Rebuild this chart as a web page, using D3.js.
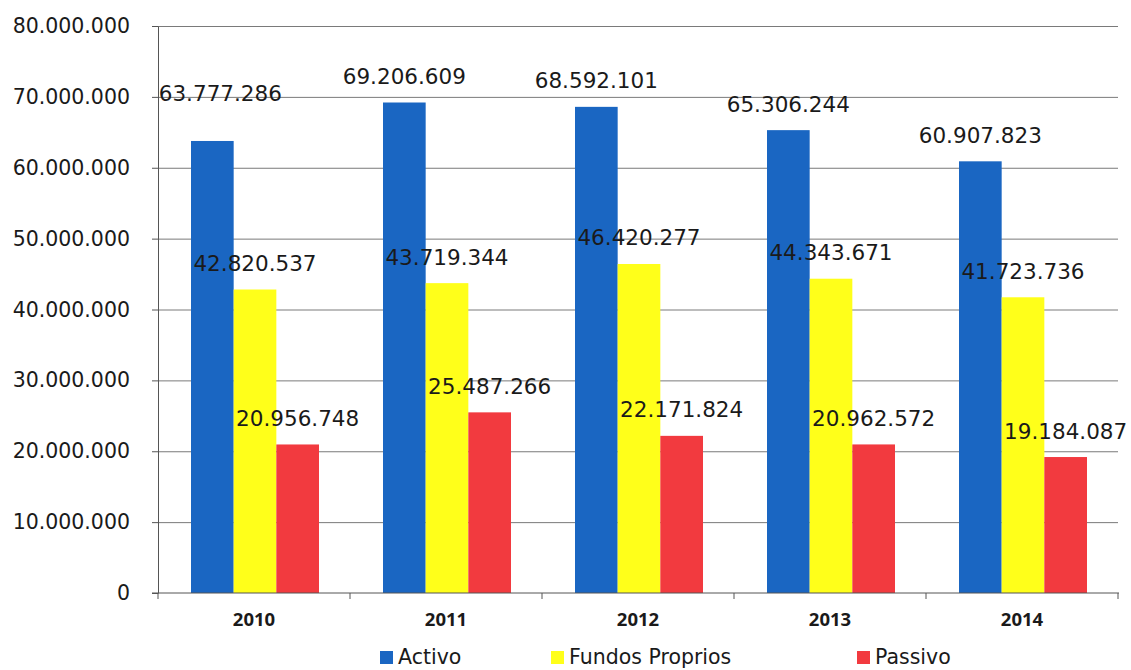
<!DOCTYPE html>
<html>
<head>
<meta charset="utf-8">
<script src="https://cdn.jsdelivr.net/npm/d3@7"></script>
<style>
    body { margin: 0; background: #fff; }
    .grid line { stroke: #7a7a7a; stroke-width: 1; }
    .grid .domain { display: none; }
    .y.axis text { font-family: "DejaVu Sans"; font-size: 20.5px; fill: #1a1a1a; }
    .x.axis text { font-family: "Open Sans"; font-weight: 700; font-size: 18.5px; fill: #1a1a1a; }
    .axis line, .axis path { stroke: #555; }
    .label { font-family: "DejaVu Sans"; font-size: 21.5px; fill: #1a1a1a; }
    .legend text { font-family: "DejaVu Sans"; font-size: 20.5px; fill: #1a1a1a; }
</style>
</head>
<body>
<svg id="chart" width="1131" height="670"></svg>
<script>
const years = ["2010", "2011", "2012", "2013", "2014"]
const seriesNames = ["Activo", "Fundos Proprios", "Passivo"]
const activo = [63777286, 69206609, 68592101, 65306244, 60907823]
const fundos = [42820537, 43719344, 46420277, 44343671, 41723736]
const passivo = [20956748, 25487266, 22171824, 20962572, 19184087]
const yTicks = [0, 10000000, 20000000, 30000000, 40000000, 50000000, 60000000, 70000000, 80000000]
const colors = ["#1a66c2", "#ffff1a", "#f23a3f"]

const values = [activo, fundos, passivo]
const data = []
years.forEach((year, i) => {
    values.forEach((vals, s) => {
        data.push({ year: year, series: seriesNames[s], s: s, value: vals[i] })
    })
})

const plotLeft = 158, plotRight = 1118, plotTop = 26, plotBottom = 593

const svg = d3.select("#chart")
const fmt = d => d3.format(",")(d).replace(/,/g, ".")

const x = d3.scaleBand().domain(years).range([plotLeft, plotRight]).paddingInner(0).paddingOuter(0)
const xs = d3.scaleBand().domain(d3.range(3)).range([33, 192 - 31]).padding(0)
const y = d3.scaleLinear().domain([0, 80000000]).range([plotBottom, plotTop])

// gridlines
svg.append("g").attr("class", "grid").attr("transform", `translate(${plotLeft},0)`)
    .call(d3.axisLeft(y).tickValues(yTicks.slice(1)).tickSize(-(plotRight - plotLeft)).tickFormat(""))

// y axis
svg.append("g").attr("class", "y axis").attr("transform", `translate(${plotLeft},0)`)
    .call(d3.axisLeft(y).tickValues(yTicks).tickSize(6).tickSizeOuter(0).tickPadding(22).tickFormat(fmt))

// bars
svg.selectAll(".bar").data(data).enter().append("rect").attr("class", "bar")
    .attr("x", d => x(d.year) + xs(d.s))
    .attr("y", d => y(d.value))
    .attr("width", xs.bandwidth())
    .attr("height", d => y(0) - y(d.value))
    .style("fill", d => colors[d.s])

// x axis with ticks at category boundaries
const xAxis = svg.append("g").attr("class", "x axis").attr("transform", `translate(0,${plotBottom})`)
xAxis.append("line").attr("x1", plotLeft - 6).attr("x2", plotRight + 1).attr("y1", 0).attr("y2", 0).attr("stroke", "#555")
xAxis.selectAll(".tick-b").data(d3.range(years.length + 1)).enter().append("line")
    .attr("x1", i => plotLeft + i * x.bandwidth()).attr("x2", i => plotLeft + i * x.bandwidth())
    .attr("y1", 0).attr("y2", 6).attr("stroke", "#555")
xAxis.selectAll("text").data(years).enter().append("text")
    .attr("x", d => x(d) + x.bandwidth() / 2).attr("y", 33)
    .attr("text-anchor", "middle").text(d => d)

// data labels; 2010 Activo label was dragged up-left in the original
svg.selectAll(".label").data(data).enter().append("text").attr("class", "label")
    .attr("text-anchor", "middle")
    .attr("x", d => x(d.year) + xs(d.s) + xs.bandwidth() / 2 + (d.year === "2010" && d.s === 0 ? 8 : 0))
    .attr("y", d => y(d.value) - 18.5 - (d.year === "2010" && d.s === 0 ? 21 : 0))
    .text(d => fmt(d.value))

// legend
const legendX = [380, 551, 857]
const legend = svg.append("g").attr("class", "legend")
seriesNames.forEach((name, i) => {
    legend.append("rect").attr("x", legendX[i]).attr("y", 651).attr("width", 13).attr("height", 13).style("fill", colors[i])
    legend.append("text").attr("x", legendX[i] + 18).attr("y", 664).text(name)
})
</script>
</body>
</html>
